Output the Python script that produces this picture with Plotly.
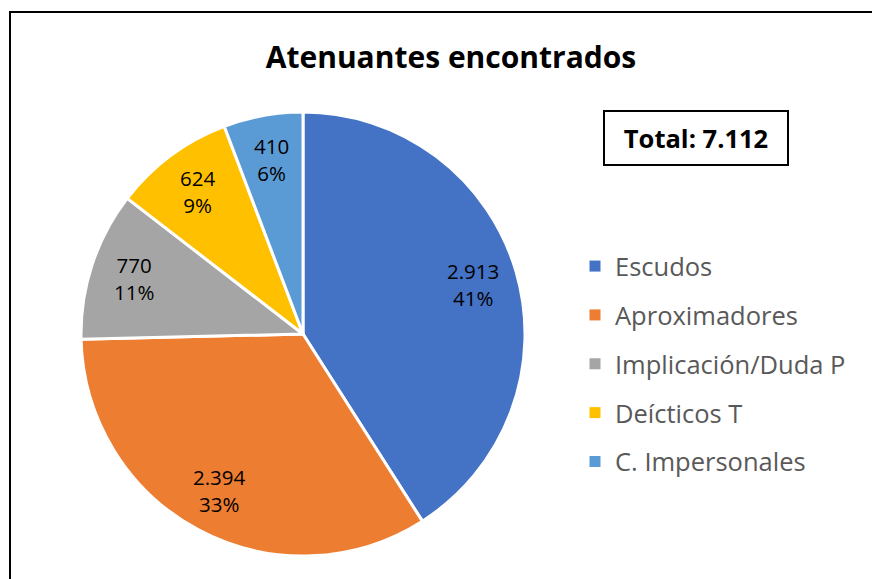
import math
import plotly.graph_objects as go

# Data
categories = ["Escudos", "Aproximadores", "Implicación/Duda P", "Deícticos T", "C. Impersonales"]
values = [2913, 2394, 770, 624, 410]
value_labels = ["2.913", "2.394", "770", "624", "410"]
pct_labels = ["41%", "33%", "11%", "9%", "6%"]
total_label = "Total: 7.112"
colors = ["#4472C4", "#ED7D31", "#A5A5A5", "#FFC000", "#5B9BD5"]

W, H = 880, 579
OFF = 8  # page body margin of the html output
FONT = "Open Sans"


def px(x):
    """screen x (reference pixels) -> paper x"""
    return (x - OFF) / W


def py(y):
    """screen y (reference pixels) -> paper y"""
    return 1 - (y - OFF) / H


# pie geometry in screen pixels
CX, CY, R = 303, 334, 222

fig = go.Figure()

fig.add_trace(go.Pie(
    labels=categories,
    values=values,
    textinfo="none",
    marker=dict(colors=colors, line=dict(color="white", width=3)),
    sort=False,
    direction="clockwise",
    rotation=0,
    showlegend=False,
    hoverinfo="label+value+percent",
    domain=dict(x=[px(CX - R), px(CX + R)], y=[py(CY + R), py(CY - R)]),
))

# data labels, Excel style: on the slice bisector at 80% of the radius
annotations = []
total = sum(values)
cum = 0
for v, vl, pl in zip(values, value_labels, pct_labels):
    mid = (cum + v / 2) / total * 2 * math.pi
    cum += v
    lx = CX + 0.8 * R * math.sin(mid)
    ly = CY - 0.8 * R * math.cos(mid)
    annotations.append(dict(
        text=f"{vl}<br>{pl}", xref="paper", yref="paper",
        x=px(lx), y=py(ly), xanchor="center", yanchor="middle",
        showarrow=False, align="center",
        font=dict(family=FONT, size=20.5, color="black"),
    ))

annotations.append(dict(
    text="<b>" + total_label + "</b>",
    xref="paper", yref="paper",
    x=px(696), y=py(138), xanchor="center", yanchor="middle",
    showarrow=False,
    font=dict(family=FONT, size=25.5, color="black"),
    width=160, height=30,
    bordercolor="black", borderwidth=2, borderpad=11,
    bgcolor="white",
))

# legend entries (one group each so the gap between rows can be set)
for name, color in zip(categories, colors):
    fig.add_trace(go.Scatter(
        x=[None], y=[None], mode="markers", name=name,
        legendgroup=name,
        marker=dict(symbol="square", size=11, color=color),
    ))

fig.update_layout(
    width=W, height=H,
    margin=dict(l=0, r=0, t=0, b=0),
    paper_bgcolor="white",
    plot_bgcolor="white",
    xaxis=dict(visible=False),
    yaxis=dict(visible=False),
    title=dict(
        text="<b>Atenuantes encontrados</b>",
        x=px(451), xanchor="center",
        y=py(57), yanchor="middle",
        font=dict(family=FONT, size=30, color="black"),
    ),
    legend=dict(
        x=px(575), xanchor="left",
        y=py(243), yanchor="top",
        font=dict(family=FONT, size=25.5, color="#595959"),
        tracegroupgap=12.7,
        bgcolor="rgba(0,0,0,0)",
    ),
    annotations=annotations,
    shapes=[dict(
        type="rect", xref="paper", yref="paper",
        x0=px(10), x1=1.05, y0=-0.05, y1=py(12),
        line=dict(color="black", width=2),
    )],
)

fig.write_html("out.html")
